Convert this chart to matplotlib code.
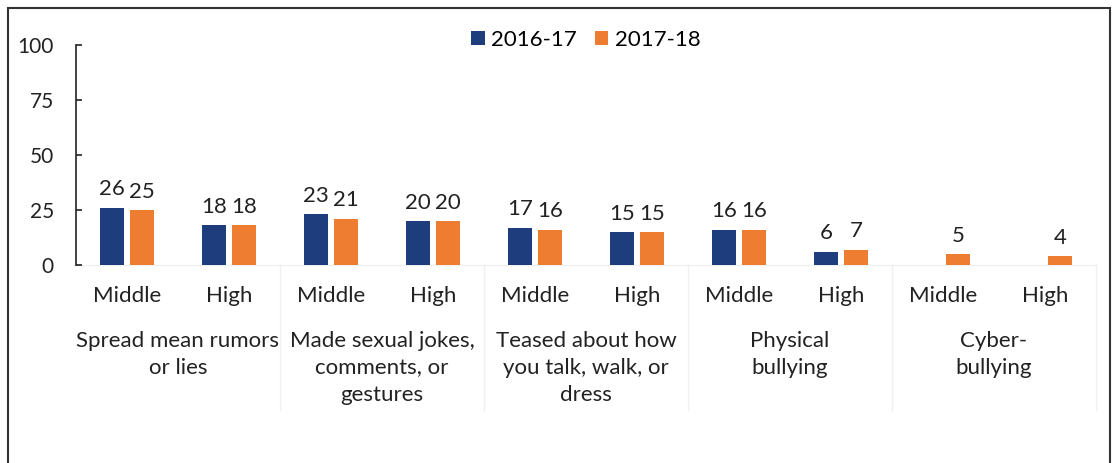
import numpy as np
import matplotlib.pyplot as plt
from matplotlib.patches import Rectangle

plt.rcParams['font.family'] = ['Lato', 'DejaVu Sans']

# === Data ===
levels = ["Middle", "High"] * 5
categories = ["Spread mean rumors\nor lies",
              "Made sexual jokes,\ncomments, or\ngestures",
              "Teased about how\nyou talk, walk, or\ndress",
              "Physical\nbullying",
              "Cyber-\nbullying"]
y2016 = [26, 18, 23, 20, 17, 15, 16, 6, np.nan, np.nan]
y2017 = [25, 18, 21, 20, 16, 15, 16, 7, 5, 4]
series_names = ["2016-17", "2017-18"]

blue = "#1d3d7c"
orange = "#ee7d32"

fig = plt.figure(figsize=(11.16, 4.63), dpi=100)
ax = fig.add_axes([76 / 1116, 1 - 265 / 463, 1020 / 1116, 220 / 463])

x = np.arange(len(levels))
w = 0.235
off = 0.145
b1 = ax.bar(x - off, y2016, w, color=blue, label=series_names[0])
b2 = ax.bar(x + off, y2017, w, color=orange, label=series_names[1])

for bars, vals in [(b1, y2016), (b2, y2017)]:
    for rect, v in zip(bars, vals):
        if np.isnan(v):
            continue
        ax.annotate(f"{v:.0f}", (rect.get_x() + rect.get_width() / 2, v),
                    xytext=(0, 6), textcoords="offset points",
                    ha="center", va="bottom", fontsize=16, color="#222222")

ax.set_xlim(-0.5, len(levels) - 0.5)
ax.set_ylim(0, 100)
ax.set_yticks([0, 25, 50, 75, 100])
ax.tick_params(axis="y", direction="in", length=4, pad=16, labelsize=15,
               colors="#222222", width=1.2)
ax.tick_params(axis="x", length=0, labelsize=16, pad=15, colors="#222222")
ax.set_xticks(x)
ax.set_xticklabels(levels)
for s in ["top", "right", "bottom"]:
    ax.spines[s].set_visible(False)
ax.spines["left"].set_linewidth(1.2)
ax.spines["left"].set_color("#222222")

# category labels under each pair of levels
for i, cat in enumerate(categories):
    ax.text(2 * i + 0.5, -0.3, cat, transform=ax.get_xaxis_transform(),
            ha="center", va="top", fontsize=16, color="#222222",
            linespacing=1.45)

# faint separators between categories
for i in range(1, 6):
    ax.plot([2 * i - 0.5, 2 * i - 0.5], [0, -0.66], transform=ax.get_xaxis_transform(),
            color="#f0f0f0", lw=1, clip_on=False)
ax.plot([-0.5, 9.5], [0, 0], transform=ax.get_xaxis_transform(),
        color="#f0f0f0", lw=1, clip_on=False, zorder=0)

ax.legend(loc="upper center", bbox_to_anchor=(0.5, 1.16), ncol=2, frameon=False,
          fontsize=16, handlelength=0.6, handleheight=0.6, handletextpad=0.3,
          columnspacing=0.8)

# outer border
fig.add_artist(Rectangle((8 / 1116, -0.02), 1102 / 1116, 1 - 8 / 463 + 0.02,
                         transform=fig.transFigure, fill=False,
                         edgecolor="#333333", lw=1.5))

fig.savefig("out.png", dpi=100)
